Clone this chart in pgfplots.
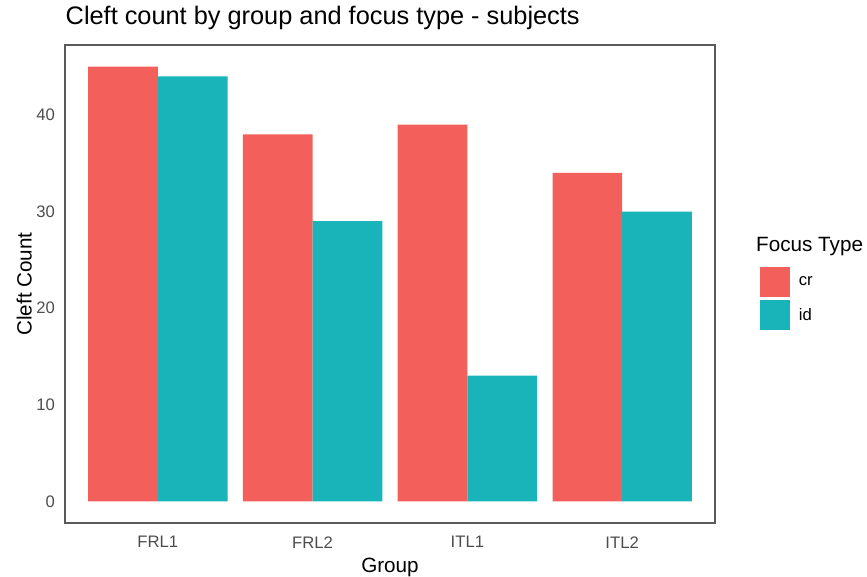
\documentclass[border=0pt]{standalone}
\usepackage{fontspec}
\setmainfont{Liberation Sans}
\usepackage{pgfplots}
\pgfplotsset{compat=1.18}
\definecolor{crcol}{HTML}{F35F5B}
\definecolor{idcol}{HTML}{19B4B9}
\definecolor{framecol}{HTML}{5A5A5A}
\definecolor{ticklab}{HTML}{4D4D4D}

\begin{document}
\begin{tikzpicture}
% frame the whole picture at 867x576 px (0.75pt per px)
\path[use as bounding box] (0,0) rectangle (650.25pt,432pt);
\begin{axis}[
    at={(48.75pt,39.75pt)}, anchor=south west,
    scale only axis,
    width=487.5pt, height=358.5pt,
    xmin=0.4, xmax=4.6,
    ymin=-2.25, ymax=47.25,
    xtick={1,2,3,4},
    xticklabels={FRL1,FRL2,ITL1,ITL2},
    ytick={0,10,20,30,40},
    axis line style={framecol, line width=0.8pt},
    tick style={white, line width=1.2pt},
    tick align=outside,
    major tick length=3.5pt,
    ticklabel style={font=\fontsize{12.5}{15}\selectfont, text=ticklab},
    xticklabel style={yshift=-3pt},
    yticklabel style={xshift=-0.5pt},
    /pgf/number format/assume math mode=true,
    xlabel={Group}, ylabel={Cleft Count},
    label style={font=\fontsize{15.5}{18}\selectfont},
    xlabel style={yshift=-1pt},
    ylabel style={yshift=-3.5pt},
    title={Cleft count by group and focus type - subjects},
    title style={font=\fontsize{19}{22}\selectfont, at={(0,1)}, anchor=south west, xshift=-3pt, yshift=2pt},
    legend style={at={(1.062,0.469)}, anchor=west, draw=none, fill=none,
        font=\fontsize{12.5}{15}\selectfont, row sep=2.2pt,
        legend cell align=left},
    legend image code/.code={\fill[#1] (0pt,-11.25pt) rectangle (22.5pt,11.25pt);},
    clip=false,
]
\addplot[ybar, bar width=0.45, bar shift=-0.225, fill=crcol, draw=none]
    coordinates {(1,45) (2,38) (3,39) (4,34)};
\addplot[ybar, bar width=0.45, bar shift=0.225, fill=idcol, draw=none]
    coordinates {(1,44) (2,29) (3,13) (4,30)};
\legend{\hspace{5pt}cr, \hspace{5pt}id}
\node[anchor=west, font=\fontsize{15.5}{18}\selectfont, inner sep=0pt]
    at (rel axis cs:1.063,0.579) {Focus Type};
\end{axis}
\end{tikzpicture}
\end{document}
